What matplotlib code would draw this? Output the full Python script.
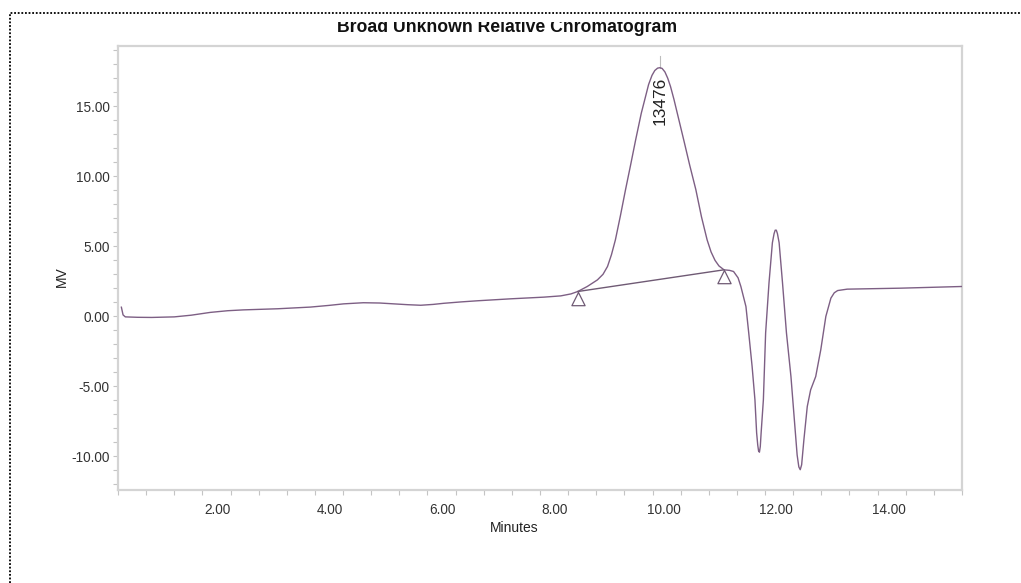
import numpy as np
import matplotlib.pyplot as plt
from matplotlib.lines import Line2D
from matplotlib.patches import Rectangle
from matplotlib.ticker import MultipleLocator

plt.rcParams['font.family'] = ['Liberation Sans', 'DejaVu Sans']

# detector trace, minutes vs mV
minutes = [0.06, 0.09, 0.13, 0.35, 0.6, 1.0, 1.3, 1.64, 1.95, 2.23, 2.84, 3.42,
           3.75, 4.01, 4.36, 4.65, 4.9, 5.15, 5.38, 5.6, 5.79, 6.1, 6.39, 6.98,
           7.57, 7.87, 8.05, 8.17, 8.34, 8.52, 8.62, 8.7, 8.77, 8.84, 8.93, 9.02,
           9.11, 9.2, 9.3, 9.37, 9.43, 9.49, 9.54, 9.59, 9.63, 9.67, 9.72, 9.77,
           9.82, 9.88, 9.97, 10.06,
           10.16, 10.27, 10.37, 10.47, 10.54, 10.61, 10.68, 10.77, 10.87, 10.94, 11.02,
           11.07, 11.16, 11.21, 11.27, 11.32, 11.35, 11.37, 11.385, 11.4, 11.415, 11.43,
           11.47, 11.51, 11.57, 11.63, 11.66, 11.68, 11.7, 11.72, 11.75, 11.81, 11.88,
           11.96, 12.03, 12.07, 12.1, 12.125, 12.15, 12.19, 12.25, 12.31, 12.4, 12.49,
           12.58, 12.67, 12.73, 12.79, 12.96, 13.91, 15.0]
mv = [0.65, 0.1, -0.04, -0.07, -0.08, -0.04, 0.08, 0.28, 0.4, 0.46, 0.54, 0.66,
      0.78, 0.89, 0.97, 0.95, 0.89, 0.83, 0.79, 0.85, 0.93, 1.03, 1.11, 1.25,
      1.37, 1.46, 1.6, 1.77, 2.13, 2.6, 3.0, 3.56, 4.4, 5.46, 7.2, 9.04,
      10.8, 12.6, 14.5, 15.6, 16.55, 17.2, 17.55, 17.72, 17.75, 17.7, 17.45, 17.0,
      16.4, 15.5, 14.0, 12.5,
      10.8, 9.04, 7.1, 5.46, 4.6, 4.0, 3.6, 3.32, 3.28, 3.2, 2.75,
      2.13, 0.7, -1.2, -3.59, -5.96, -8.32, -9.2, -9.62, -9.7, -9.3, -8.32,
      -5.96, -1.18, 2.39, 5.25, 5.9, 6.15, 6.15, 5.9, 5.25, 2.39, -1.18,
      -4.3, -7.87, -9.9, -10.75, -10.95, -10.6, -8.82, -6.44, -5.25, -4.3, -2.39,
      -0.01, 1.3, 1.68, 1.84, 1.94, 2.01, 2.13]

# integration baseline (peak start / end) and apex
base_t = [8.17, 10.77]
base_v = [1.77, 3.32]
apex_t = 9.63
apex_v = 17.75
peak_area = "13476"

trace_color = '#7d5f84'
axis_gray = '#d4d4d4'

fig = plt.figure(figsize=(10.21, 5.83), dpi=100)
ax = fig.add_axes([118 / 1021, 1 - 490 / 583, 844 / 1021, 444 / 583])

ax.plot(minutes, mv, color=trace_color, lw=1.0, zorder=3)
ax.plot(base_t, base_v, color='#6f5a74', lw=1.0, zorder=3)

# triangles hanging below the baseline end points
tri = [(0, 0), (-0.5, -1), (0.5, -1), (0, 0)]
ax.plot(base_t, base_v, ls='none', marker=tri, markersize=19,
        markerfacecolor='none', markeredgecolor='#6f5a74', markeredgewidth=0.9, zorder=4)

# apex marker and area label
ax.plot([apex_t, apex_t], [apex_v, apex_v + 0.85], color='#bdbdbd', lw=0.8)
ax.text(apex_t, 15.35, peak_area, rotation=90, ha='center', va='center',
        fontsize=12.5, color='#222222')

ax.set_xlim(0, 15.0)
ax.set_ylim(-12.4, 19.3)

ax.set_xticks([2, 4, 6, 8, 10, 12, 14])
ax.set_xticklabels([f"{v:.2f}" for v in [2, 4, 6, 8, 10, 12, 14]])
ax.xaxis.set_minor_locator(MultipleLocator(0.5))
ax.set_yticks([-10, -5, 0, 5, 10, 15])
ax.set_yticklabels([f"{v:.2f}" for v in [-10, -5, 0, 5, 10, 15]])
ax.yaxis.set_minor_locator(MultipleLocator(1))

for lbl in ax.get_xticklabels():
    lbl.set_ha('right')

ax.tick_params(which='both', direction='out', length=3.5, width=0.8,
               color='#c4c4c4', labelsize=9.8, labelcolor='#333333')
ax.tick_params(axis='x', which='both', pad=5.5)
ax.tick_params(axis='y', which='both', pad=2.5)

for sp in ax.spines.values():
    sp.set_color(axis_gray)
    sp.set_linewidth(1.6)

fig.text(62 / 1021, 1 - 277 / 583, "MV", rotation=90, ha='center', va='center',
         fontsize=10, color='#222222')
fig.text(514.5 / 1021, 1 - 528 / 583, "Minutes", ha='center', va='center',
         fontsize=10, color='#222222')

fig.text(507 / 1021, 1 - 32 / 583, "Broad Unknown Relative Chromatogram",
         ha='center', va='baseline', fontsize=12.7, fontweight='bold', color='#111111')

# top strip covers the upper part of the heading
fig.add_artist(Rectangle((0, 1 - 21.5 / 583), 1, 21.5 / 583, transform=fig.transFigure,
                         facecolor='white', edgecolor='none', zorder=5))

# dotted page frame
fx = 9.5 / 1021
fy = 1 - 12.5 / 583
fig.add_artist(Line2D([fx, fx, 1.0], [0.0, fy, fy], transform=fig.transFigure,
                      color='black', lw=1.3, ls=(0, (1, 1)), zorder=6))

fig.savefig("out.png", dpi=100)
